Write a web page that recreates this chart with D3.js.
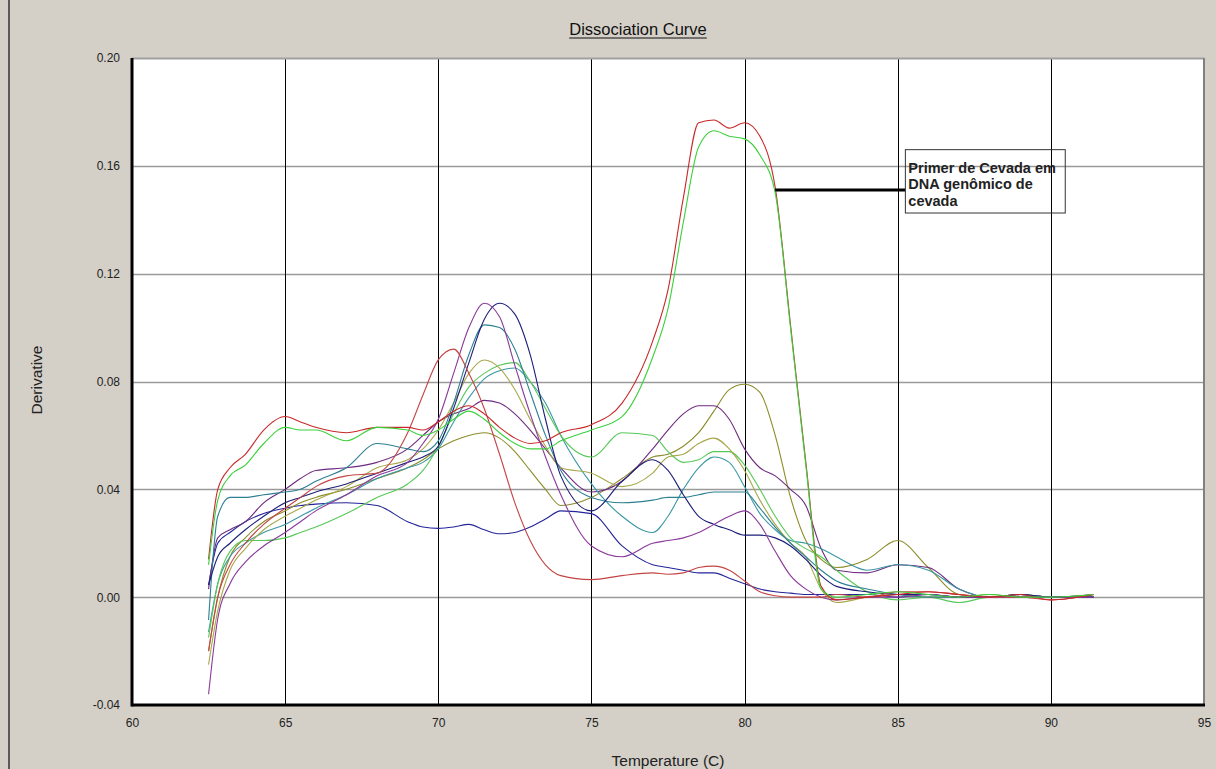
<!DOCTYPE html>
<html>
<head>
<meta charset="utf-8">
<script src="https://cdnjs.cloudflare.com/ajax/libs/d3/7.8.5/d3.min.js"></script>
<style>
  html, body { margin: 0; padding: 0; background: #d4d0c8; }
  #visualization { width: 1216px; height: 769px; }
  text { font-family: "Liberation Sans", Arial, sans-serif; }
</style>
</head>
<body>
<div id="visualization"></div>
<script>
// temperatures (C) shared by every well
var temps = [62.5, 62.8, 63.2, 63.7, 64.3, 65, 65.5, 66, 67, 68, 69, 69.5, 70, 70.5, 71, 71.5, 72, 72.5, 73, 73.5,
             74, 75, 76, 77, 77.5, 78, 78.5, 79, 79.5, 80, 80.5, 81, 81.5, 82, 82.5, 83, 84, 85, 86, 87, 88, 89, 90, 91.4];

// derivative values, one array per well
var redA   = [0.014, 0.040, 0.048, 0.053, 0.062, 0.067, 0.065, 0.063, 0.061, 0.063, 0.063, 0.062, 0.065, 0.069, 0.071, 0.068, 0.063, 0.059, 0.057, 0.058,
              0.061, 0.064, 0.072, 0.095, 0.114, 0.148, 0.176, 0.177, 0.174, 0.176, 0.171, 0.152, 0.101, 0.050, 0.004, -0.001, 0.000, 0.001, 0.002, 0.001, 0.000, 0.001, -0.001, 0.001];
var greenA = [0.012, 0.036, 0.045, 0.049, 0.057, 0.063, 0.062, 0.062, 0.058, 0.063, 0.062, 0.060, 0.062, 0.066, 0.069, 0.066, 0.061, 0.057, 0.055, 0.055,
              0.058, 0.062, 0.067, 0.089, 0.107, 0.139, 0.167, 0.173, 0.171, 0.170, 0.164, 0.150, 0.100, 0.049, 0.003, 0.000, 0.001, 0.002, 0.001, 0.000, 0.001, 0.000, 0.000, 0.001];
var redB   = [-0.020, 0.000, 0.012, 0.020, 0.027, 0.033, 0.037, 0.041, 0.045, 0.046, 0.061, 0.075, 0.088, 0.092, 0.083, 0.070, 0.053, 0.035, 0.021, 0.012,
              0.008, 0.0065, 0.008, 0.009, 0.0085, 0.009, 0.011, 0.0115, 0.010, 0.006, 0.002, 0.0005, 0.000, 0.000, 0.000, 0.001, 0.000, 0.002, 0.002, 0.001, 0.000, 0.000, -0.001, 0.001];
var purpleA = [-0.036, -0.008, 0.005, 0.013, 0.019, 0.024, 0.028, 0.032, 0.038, 0.045, 0.050, 0.057, 0.066, 0.083, 0.100, 0.109, 0.104, 0.086, 0.068, 0.052,
               0.038, 0.019, 0.015, 0.020, 0.021, 0.022, 0.024, 0.027, 0.030, 0.032, 0.027, 0.017, 0.008, 0.003, 0.000, -0.001, 0.000, 0.000, 0.001, 0.000, 0.000, 0.000, 0.000, 0.000];
var navyA  = [0.0045, 0.015, 0.020, 0.025, 0.030, 0.035, 0.037, 0.039, 0.042, 0.046, 0.050, 0.052, 0.056, 0.070, 0.087, 0.103, 0.109, 0.105, 0.090, 0.066,
              0.045, 0.032, 0.043, 0.051, 0.047, 0.038, 0.030, 0.027, 0.025, 0.023, 0.023, 0.022, 0.019, 0.014, 0.008, 0.004, 0.002, 0.001, 0.001, 0.000, 0.000, 0.001, 0.000, 0.000];
var tealA  = [-0.0085, 0.030, 0.037, 0.037, 0.038, 0.039, 0.040, 0.043, 0.048, 0.057, 0.055, 0.054, 0.058, 0.072, 0.090, 0.101, 0.100, 0.092, 0.076, 0.060,
              0.047, 0.037, 0.035, 0.036, 0.037, 0.037, 0.038, 0.039, 0.039, 0.039, 0.033, 0.026, 0.020, 0.015, 0.010, 0.006, 0.003, 0.001, 0.000, 0.000, 0.000, 0.000, 0.000, 0.000];
var oliveA = [-0.025, -0.005, 0.010, 0.018, 0.025, 0.030, 0.033, 0.036, 0.041, 0.048, 0.051, 0.055, 0.062, 0.072, 0.083, 0.088, 0.085, 0.077, 0.066, 0.056,
              0.048, 0.046, 0.041, 0.046, 0.052, 0.053, 0.057, 0.059, 0.055, 0.047, 0.036, 0.027, 0.020, 0.015, 0.003, -0.002, 0.000, 0.001, 0.000, 0.000, 0.001, 0.000, 0.000, 0.000];
var lgreenB = [-0.015, 0.005, 0.017, 0.021, 0.021, 0.022, 0.024, 0.026, 0.031, 0.037, 0.042, 0.047, 0.056, 0.068, 0.078, 0.083, 0.086, 0.087, 0.080, 0.070,
               0.060, 0.052, 0.061, 0.060, 0.054, 0.050, 0.051, 0.054, 0.054, 0.049, 0.040, 0.030, 0.022, 0.018, 0.015, 0.010, 0.002, -0.001, 0.000, -0.002, 0.000, 0.000, 0.000, 0.001];
var tealB  = [-0.013, 0.005, 0.015, 0.020, 0.024, 0.027, 0.030, 0.033, 0.038, 0.044, 0.048, 0.050, 0.055, 0.065, 0.074, 0.081, 0.084, 0.085, 0.080, 0.072,
              0.060, 0.042, 0.030, 0.024, 0.030, 0.040, 0.048, 0.052, 0.050, 0.041, 0.031, 0.025, 0.021, 0.020, 0.018, 0.015, 0.010, 0.012, 0.010, 0.003, 0.000, 0.001, 0.000, 0.000];
var purpleB = [0.003, 0.022, 0.025, 0.028, 0.035, 0.040, 0.044, 0.047, 0.048, 0.050, 0.055, 0.060, 0.065, 0.068, 0.070, 0.073, 0.072, 0.068, 0.062, 0.055,
               0.048, 0.039, 0.043, 0.055, 0.062, 0.068, 0.071, 0.071, 0.066, 0.055, 0.048, 0.045, 0.040, 0.034, 0.018, 0.010, 0.009, 0.012, 0.011, 0.003, 0.000, 0.001, 0.000, 0.001];
var oliveB = [-0.020, 0.000, 0.015, 0.022, 0.028, 0.032, 0.035, 0.037, 0.040, 0.044, 0.048, 0.051, 0.055, 0.058, 0.060, 0.061, 0.059, 0.054, 0.047, 0.040,
              0.034, 0.037, 0.044, 0.052, 0.053, 0.056, 0.061, 0.069, 0.077, 0.079, 0.076, 0.060, 0.037, 0.021, 0.014, 0.011, 0.014, 0.021, 0.011, 0.001, 0.000, 0.001, 0.000, 0.001];
var navyB  = [0.0045, 0.020, 0.024, 0.028, 0.031, 0.033, 0.034, 0.0345, 0.035, 0.034, 0.028, 0.026, 0.0255, 0.026, 0.027, 0.025, 0.0235, 0.024, 0.026, 0.029,
              0.032, 0.031, 0.019, 0.012, 0.011, 0.010, 0.009, 0.009, 0.007, 0.005, 0.003, 0.002, 0.0015, 0.001, 0.001, 0.001, 0.001, 0.000, 0.001, 0.000, 0.000, 0.000, 0.000, 0.000];

var seriesNames  = ["navyB", "oliveB", "purpleB", "tealB", "lgreenB", "oliveA", "tealA", "navyA", "purpleA", "redB", "redA", "greenA"];
var seriesValues = [navyB, oliveB, purpleB, tealB, lgreenB, oliveA, tealA, navyA, purpleA, redB, redA, greenA];
var seriesColors = ["#24249a", "#8c8c2a", "#6e2a80", "#3a98a4", "#58c858", "#a8a84a", "#2e7f92", "#1e1e7a", "#8a3a9a", "#c44444", "#c82828", "#3cd03c"];

var xTicks = [60, 65, 70, 75, 80, 85, 90, 95];
var yTicks = [-0.04, 0.00, 0.04, 0.08, 0.12, 0.16, 0.20];

var titleText = "Dissociation Curve";
var xLabel = "Temperature (C)";
var yLabel = "Derivative";
var noteLines = ["Primer de Cevada em", "DNA genômico de", "cevada"];
var notePoint = [81, 0.151];

function load_chart(){

    var W = 1216, H = 769;
    var margin = {top: 58, right: 12, bottom: 64, left: 132},
        width = W - margin.left - margin.right,
        height = H - margin.top - margin.bottom;

    var x = d3.scaleLinear().domain([60, 95]).range([0, width]);
    var y = d3.scaleLinear().domain([-0.04, 0.20]).range([height, 0]);

    var svg = d3.select("#visualization").append("svg")
        .attr("width", W)
        .attr("height", H);

    // window background and left frame edge
    svg.append("rect").attr("width", W).attr("height", H).attr("fill", "#d4d0c8");
    svg.append("line")
        .attr("x1", 9).attr("x2", 9).attr("y1", 0).attr("y2", H)
        .attr("stroke", "#5a5a5a").attr("stroke-width", 2);

    // title, underlined
    var title = svg.append("text")
        .attr("x", 638).attr("y", 35)
        .attr("text-anchor", "middle")
        .attr("font-size", 16.5)
        .attr("fill", "#111")
        .text(titleText);
    var tb = title.node().getBBox();
    svg.append("line")
        .attr("x1", tb.x).attr("x2", tb.x + tb.width)
        .attr("y1", 38).attr("y2", 38)
        .attr("stroke", "#111").attr("stroke-width", 1);

    var g = svg.append("g")
        .attr("transform", "translate(" + margin.left + "," + margin.top + ")");

    // plot area
    g.append("rect")
        .attr("width", width).attr("height", height)
        .attr("fill", "#ffffff");

    // horizontal grid (grey)
    g.selectAll(".hgrid")
        .data(yTicks.filter(function(d){ return d > -0.04 && d < 0.20; }))
        .enter().append("line")
        .attr("class", "hgrid")
        .attr("x1", 0).attr("x2", width)
        .attr("y1", function(d){ return Math.round(y(d)) + 0.5; })
        .attr("y2", function(d){ return Math.round(y(d)) + 0.5; })
        .attr("stroke", "#9a9a9a").attr("stroke-width", 1.5);

    // vertical grid (black)
    g.selectAll(".vgrid")
        .data(xTicks.filter(function(d){ return d > 60 && d < 95; }))
        .enter().append("line")
        .attr("class", "vgrid")
        .attr("y1", 0).attr("y2", height)
        .attr("x1", function(d){ return Math.round(x(d)) + 0.5; })
        .attr("x2", function(d){ return Math.round(x(d)) + 0.5; })
        .attr("stroke", "#000").attr("stroke-width", 1);

    // frame: grey top/right, heavy black left/bottom
    g.append("line").attr("x1", 0).attr("x2", width).attr("y1", 0.5).attr("y2", 0.5)
        .attr("stroke", "#a0a0a0").attr("stroke-width", 2);
    g.append("line").attr("x1", width).attr("x2", width).attr("y1", 0).attr("y2", height)
        .attr("stroke", "#808080").attr("stroke-width", 2);
    g.append("line").attr("x1", 0).attr("x2", 0).attr("y1", 0).attr("y2", height + 1.5)
        .attr("stroke", "#000").attr("stroke-width", 3);
    g.append("line").attr("x1", 0).attr("x2", width + 1).attr("y1", height).attr("y2", height)
        .attr("stroke", "#000").attr("stroke-width", 3);

    // axes (labels only, frame lines drawn above)
    var yfmt = function(d){ return d3.format(".2f")(d).replace("\u2212", "-"); };
    var yAxis = g.append("g")
        .call(d3.axisLeft(y).tickValues(yTicks).tickFormat(yfmt).tickSize(0).tickPadding(12));
    yAxis.select(".domain").remove();
    yAxis.selectAll("text").attr("font-size", 12).attr("fill", "#222")
        .style("font-family", "'Liberation Sans', Arial, sans-serif");

    var xAxis = g.append("g")
        .attr("transform", "translate(0," + height + ")")
        .call(d3.axisBottom(x).tickValues(xTicks).tickFormat(d3.format("d")).tickSize(0).tickPadding(13));
    xAxis.select(".domain").remove();
    xAxis.selectAll("text").attr("font-size", 12).attr("fill", "#222")
        .style("font-family", "'Liberation Sans', Arial, sans-serif");

    // axis titles
    svg.append("text")
        .attr("x", 668).attr("y", 766)
        .attr("text-anchor", "middle")
        .attr("font-size", 15.5).attr("fill", "#222")
        .text(xLabel);
    svg.append("text")
        .attr("transform", "translate(42,380) rotate(-90)")
        .attr("text-anchor", "middle")
        .attr("font-size", 15.5).attr("fill", "#222")
        .text(yLabel);

    // curves
    var line = d3.line()
        .x(function(d){ return x(d[0]); })
        .y(function(d){ return y(d[1]); })
        .curve(d3.curveMonotoneX);

    var data = seriesValues.map(function(vals, i){
        return {name: seriesNames[i], color: seriesColors[i],
                points: temps.map(function(t, j){ return [t, vals[j]]; })};
    });

    g.selectAll(".curve")
        .data(data)
        .enter().append("path")
        .attr("class", "curve")
        .attr("fill", "none")
        .attr("stroke", function(d){ return d.color; })
        .attr("stroke-width", 1.1)
        .attr("d", function(d){ return line(d.points); });

    // annotation
    var bx0 = x(85.25), bx1 = x(90.47), by0 = y(0.166), by1 = y(0.1425);
    g.append("line")
        .attr("x1", x(notePoint[0])).attr("x2", bx0)
        .attr("y1", y(notePoint[1])).attr("y2", y(notePoint[1]))
        .attr("stroke", "#000").attr("stroke-width", 3);
    g.append("rect")
        .attr("x", bx0).attr("y", by0)
        .attr("width", bx1 - bx0).attr("height", by1 - by0)
        .attr("fill", "none").attr("stroke", "#333").attr("stroke-width", 1);
    g.selectAll(".note")
        .data(noteLines)
        .enter().append("text")
        .attr("class", "note")
        .attr("x", bx0 + 3)
        .attr("y", function(d, i){ return by0 + 23 + i * 16.5; })
        .attr("font-size", 14.5).attr("font-weight", "bold").attr("fill", "#222")
        .text(function(d){ return d; });
}

load_chart();
</script>
</body>
</html>
